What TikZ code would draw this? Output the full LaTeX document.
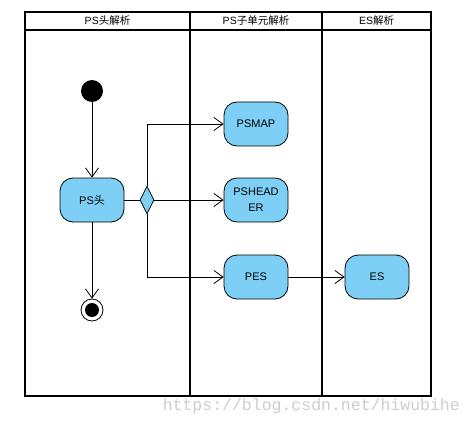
\documentclass[tikz,border=0pt]{standalone}
\usepackage{fontspec}
\setmainfont{Liberation Sans}
\newfontfamily\cjk{Noto Sans CJK SC}
\newfontfamily\wmfont{Liberation Mono}
\usetikzlibrary{arrows.meta,shapes.geometric}
\definecolor{actfill}{RGB}{125,207,245}
\definecolor{wmgray}{RGB}{205,205,205}
\begin{document}
\begin{tikzpicture}[x=1pt,y=-1pt,
  lane/.style={draw=black,line width=2pt},
  act/.style={draw=black,fill=actfill,rounded corners=13pt,minimum width=64pt,minimum height=44pt,align=center,font=\fontsize{11}{16}\selectfont,inner sep=2pt,line width=0.8pt},
  flow/.style={draw=black,line width=0.8pt},
  arr/.style={flow,-{Straight Barb[length=9pt,width=13pt,line width=0.8pt]}},
  hdr/.style={font=\fontsize{10.5}{12}\selectfont}]
\useasboundingbox (0,0) rectangle (471,425);
% pool
\draw[lane] (25,12) rectangle (431,396);
\draw[lane] (25,30) -- (431,30);
\draw[lane] (190,12) -- (190,396);
\draw[lane] (322,12) -- (322,396);
\node[hdr] (h1) at (107.5,21) {PS{\cjk 头解析}};
\node[hdr] (h2) at (256,21) {PS{\cjk 子单元解析}};
\node[hdr] (h3) at (376.5,21) {ES{\cjk 解析}};
% nodes
\node[circle,fill=black,minimum size=22pt,inner sep=0pt] (start) at (92,91) {};
\node[act] (ps) at (92,200) {PS{\cjk 头}};
\node[diamond,draw=black,fill=actfill,minimum width=14pt,minimum height=28pt,inner sep=0pt,aspect=0.5,line width=0.8pt] (dec) at (147,200) {};
\node[act] (psmap) at (256,124) {PSMAP};
\node[act] (pshead) at (256,200) {PSHEAD\\ER};
\node[act] (pes) at (256,277) {PES};
\node[act] (es) at (377,277) {ES};
\node[circle,draw=black,line width=0.8pt,minimum size=22pt,inner sep=0pt] (final) at (92,310) {};
\node[circle,fill=black,minimum size=14pt,inner sep=0pt] (finalin) at (92,310) {};
% connectors
\draw[arr] (start) -- (ps);
\draw[arr] (ps) -- (final);
\draw[flow] (ps) -- (dec);
\draw[arr] (dec.north) |- (psmap.west);
\draw[arr] (dec.east) -- (pshead.west);
\draw[arr] (dec.south) |- (pes.west);
\draw[arr] (pes) -- (es);
% watermark
\node[font=\wmfont\fontsize{16.5}{18}\selectfont,text=wmgray,anchor=east,inner sep=0pt] (wm) at (460,406) {https://blog.csdn.net/hiwubihe};
\end{tikzpicture}
\end{document}
